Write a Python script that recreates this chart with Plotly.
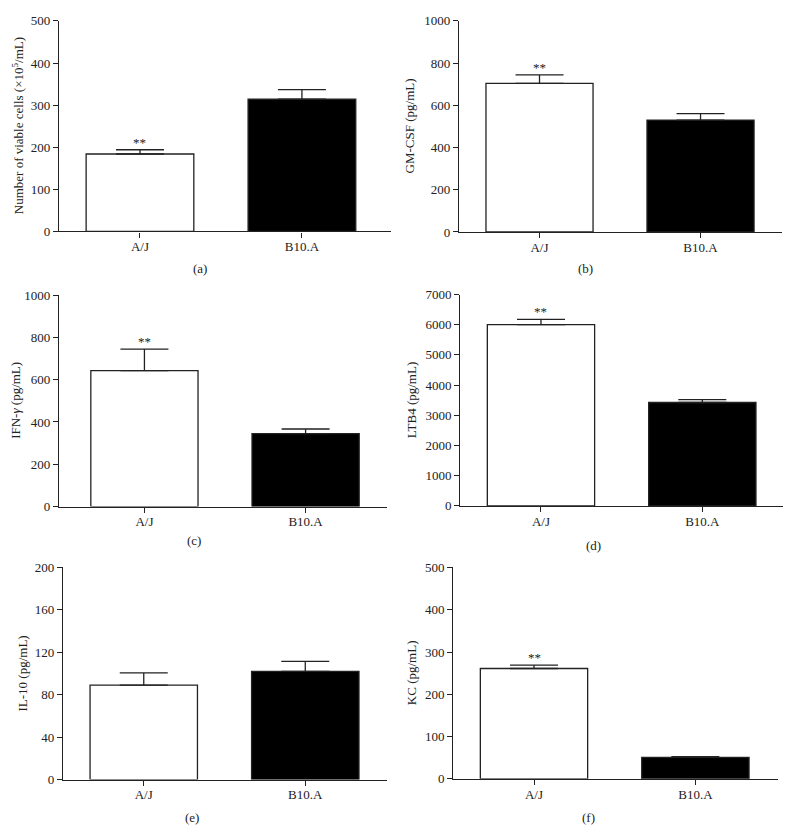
import plotly.graph_objects as go

categories = ["A/J", "B10.A"]

viable_cells = [184, 314]
viable_cells_err = [10, 23]
gm_csf = [704, 530]
gm_csf_err = [40, 31]
ifn_g = [643, 345]
ifn_g_err = [102, 22]
ltb4 = [6005, 3424]
ltb4_err = [170, 98]
il10 = [89, 102]
il10_err = [11.5, 9.5]
kc = [261, 51]
kc_err = [8, 1.5]

ytitles = ["Number of viable cells (×10<sup>5</sup>/mL)", "GM-CSF (pg/mL)",
           "IFN-<i>γ</i> (pg/mL)", "LTB4 (pg/mL)", "IL-10 (pg/mL)", "KC (pg/mL)"]
panel_labels = ["(a)", "(b)", "(c)", "(d)", "(e)", "(f)"]
yranges = [500, 1000, 1000, 7000, 200, 500]
ydticks = [100, 200, 200, 1000, 40, 100]
significant = [True, True, True, True, False, True]

series = [(viable_cells, viable_cells_err), (gm_csf, gm_csf_err), (ifn_g, ifn_g_err),
          (ltb4, ltb4_err), (il10, il10_err), (kc, kc_err)]

# page has an 8px body margin; work in page pixels and convert
OFF = 8
W, H = 785, 824
# page-pixel boxes: x0, x1, ytop, ybottom
boxes = [(59, 391, 14, 228.5), (459, 782, 14, 229), (59, 387, 293.3, 508.7),
         (460.3, 783, 292.7, 508), (63, 387, 570.7, 786.7), (453.3, 777.7, 570.7, 786)]
xranges = [(-0.5, 1.55), (-0.5, 1.506), (-0.53, 1.505), (-0.5, 1.5), (-0.5, 1.506), (-0.5, 1.51)]
ytitle_x = [18, 409, 16, 411, 22, 411]
label_pos = [(200, 266), (585, 266), (194, 543), (593, 548), (192, 825), (588, 825)]


def fx(px):
    return (px - OFF) / W


def fy(py):
    return 1 - (py - OFF) / H


FONT = "Liberation Serif"
LC = "#222222"
FS = 13

fig = go.Figure()
layout = dict(
    width=W, height=H, margin=dict(l=0, r=0, t=0, b=0),
    paper_bgcolor="white", plot_bgcolor="white", showlegend=False,
    font=dict(family=FONT, size=FS, color="#222"),
)
annotations = []
for i, ((vals, errs), box) in enumerate(zip(series, boxes)):
    n = i + 1
    xs = "x" if n == 1 else f"x{n}"
    ys = "y" if n == 1 else f"y{n}"
    fig.add_trace(go.Bar(
        x=categories, y=vals, width=0.665,
        marker=dict(color=["white", "black"], line=dict(color=LC, width=1.3)),
        error_y=dict(type="data", symmetric=False, array=errs, arrayminus=[0, 0],
                     color=LC, thickness=1.3, width=24),
        xaxis=xs, yaxis=ys, hoverinfo="skip",
    ))
    x0, x1, yt, yb = box
    xkey = "xaxis" if n == 1 else f"xaxis{n}"
    ykey = "yaxis" if n == 1 else f"yaxis{n}"
    layout[xkey] = dict(
        domain=[fx(x0), fx(x1)], anchor=ys, range=list(xranges[i]),
        showline=True, linecolor=LC, linewidth=1.3, ticks="outside", ticklen=5,
        tickcolor=LC, tickwidth=1.3, showgrid=False, zeroline=False,
        tickfont=dict(family=FONT, size=FS, color="#222"), ticklabelstandoff=-2,
    )
    layout[ykey] = dict(
        domain=[fy(yb), fy(yt)], anchor=xs, range=[0, yranges[i]],
        tick0=0, dtick=ydticks[i],
        showline=True, linecolor=LC, linewidth=1.3, ticks="outside", ticklen=5,
        tickcolor=LC, tickwidth=1.3, showgrid=False, zeroline=False,
        tickfont=dict(family=FONT, size=FS, color="#222"),
    )
    annotations.append(dict(
        text=ytitles[i], xref="paper", yref="paper", x=fx(ytitle_x[i]),
        y=fy((yt + yb) / 2), textangle=-90, showarrow=False,
        xanchor="center", yanchor="middle", font=dict(family=FONT, size=FS, color="#222"),
    ))
    lx, ly = label_pos[i]
    annotations.append(dict(
        text=panel_labels[i], xref="paper", yref="paper", x=fx(lx), y=fy(ly),
        showarrow=False, xanchor="center", yanchor="middle",
        font=dict(family=FONT, size=FS, color="#222"),
    ))
    if significant[i]:
        annotations.append(dict(
            text="**", xref=xs, yref=ys, x=categories[0], y=vals[0] + errs[0],
            showarrow=False, xanchor="center", yanchor="bottom", yshift=-2,
            font=dict(family=FONT, size=FS, color="#222"),
        ))

layout["annotations"] = annotations
fig.update_layout(**layout)
fig.write_html("out.html")
